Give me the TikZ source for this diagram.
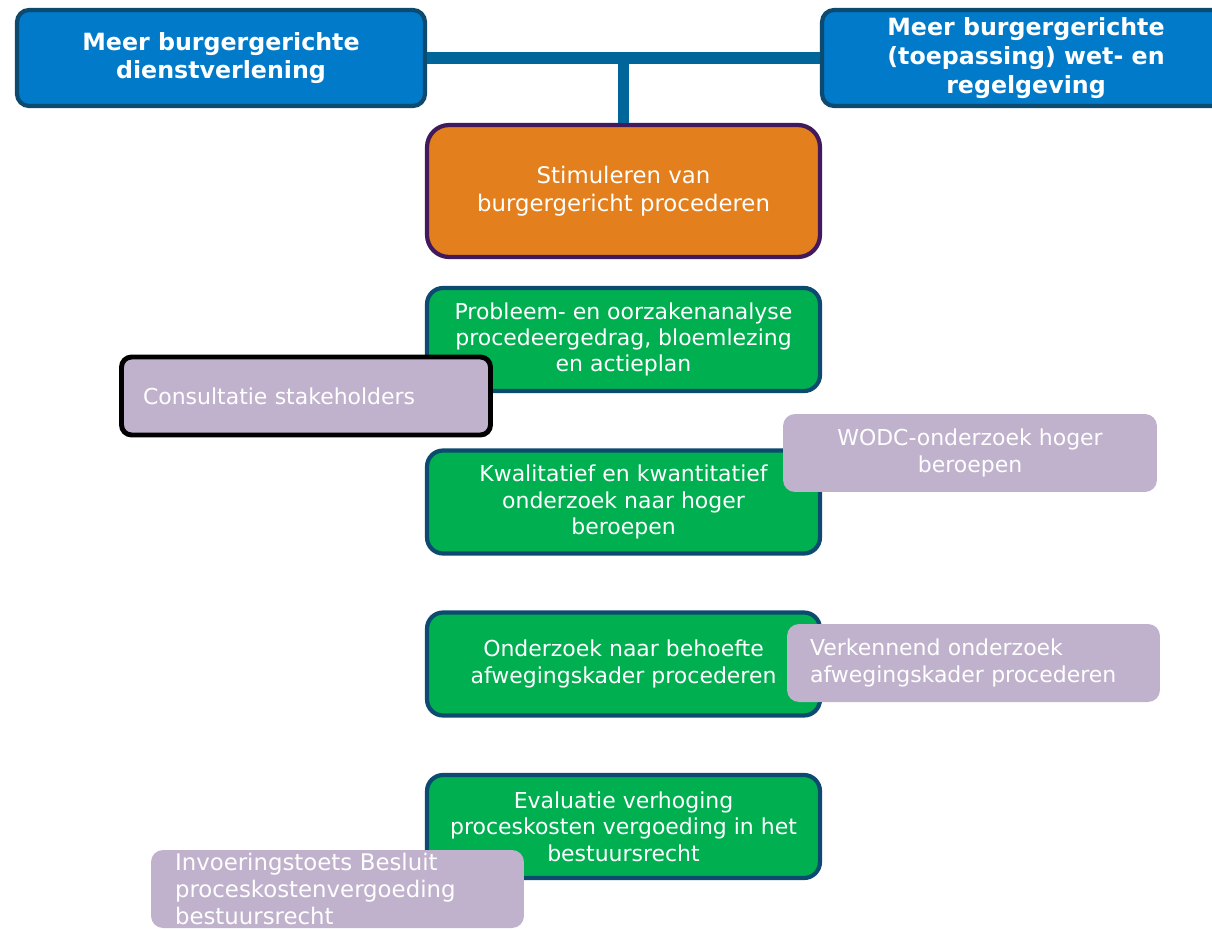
\documentclass[tikz,border=0pt]{standalone}
\usepackage{fontspec}
\setmainfont{DejaVu Sans}
\usetikzlibrary{positioning}
\definecolor{kopblauw}{RGB}{0,122,201}
\definecolor{randblauw}{RGB}{12,74,112}
\definecolor{lijnblauw}{RGB}{0,102,153}
\definecolor{oranje}{RGB}{227,127,28}
\definecolor{randpaars}{RGB}{64,26,92}
\definecolor{groen}{RGB}{0,176,80}
\definecolor{lila}{RGB}{192,178,204}
\tikzset{every node/.style={text=white, align=center,
    font=\fontsize{12.5}{15}\selectfont}}
\tikzset{
  kopbox/.style={rectangle, rounded corners=0.24cm, fill=kopblauw,
    draw=randblauw, line width=2.4pt, minimum width=8.16cm,
    minimum height=1.92cm,
    font=\fontsize{13.5}{16.4}\selectfont\bfseries},
  doelbox/.style={rectangle, rounded corners=0.44cm, fill=oranje,
    draw=randpaars, line width=2.4pt, minimum width=7.86cm,
    minimum height=2.64cm, font=\fontsize{13}{15.9}\selectfont},
  actiebox/.style={rectangle, rounded corners=0.32cm, fill=groen,
    draw=randblauw, line width=2.4pt, minimum width=7.86cm,
    minimum height=2.06cm},
  lilabox/.style={rectangle, rounded corners=0.24cm, fill=lila,
    minimum height=1.56cm},
  verbinding/.style={draw=lijnblauw, line width=6.8pt}
}

\begin{document}
\begin{tikzpicture}[x=0.02cm,y=-0.02cm]
  \useasboundingbox (0,0) rectangle (1212,929);
  \clip (0,0) rectangle (1212,929);
  % bovenste laag
  \node[kopbox] (dienst) at (221,58) {Meer burgergerichte\\dienstverlening};
  \node[kopbox] (wetgeving) at (1026,58)
    {Meer burgergerichte\\(toepassing) wet- en\\regelgeving};
  \node[doelbox] (stimuleren) at (623.5,191)
    {Stimuleren van\\burgergericht procederen};
  \coordinate (splitsing) at (stimuleren.north |- dienst.east);
  \draw[verbinding] (dienst) -- (wetgeving);
  \draw[verbinding] (splitsing) -- (stimuleren);
  % acties
  \node[actiebox] (analyse) at (623.5,339.5)
    {Probleem- en oorzakenanalyse\\procedeergedrag, bloemlezing\\en actieplan};
  \node[lilabox, draw=black, line width=2.8pt, rounded corners=0.2cm,
    text width=6.52cm, inner xsep=0.43cm, align=left] (consultatie)
    at (306,396) {Consultatie stakeholders};
  \node[actiebox] (hogerberoep) at (623.5,502)
    {Kwalitatief en kwantitatief\\onderzoek naar hoger\\beroepen};
  \node[lilabox, minimum width=7.48cm] (wodc) at (970,453)
    {WODC-onderzoek hoger\\beroepen};
  \node[actiebox] (afweging) at (623.5,664)
    {Onderzoek naar behoefte\\afwegingskader procederen};
  \node[lilabox, text width=6.54cm, inner xsep=0.46cm, align=left]
    (verkennend) at (973.5,663)
    {Verkennend onderzoek\\afwegingskader procederen};
  \node[actiebox] (evaluatie) at (623.5,826.5)
    {Evaluatie verhoging\\proceskosten vergoeding in het\\bestuursrecht};
  \node[lilabox, text width=6.5cm, inner xsep=0.48cm, inner ysep=0pt,
    align=left, font=\fontsize{13}{15.6}\selectfont] (invoering)
    at (337.5,889)
    {Invoeringstoets Besluit\\proceskostenvergoeding\\bestuursrecht};
\end{tikzpicture}
\end{document}
